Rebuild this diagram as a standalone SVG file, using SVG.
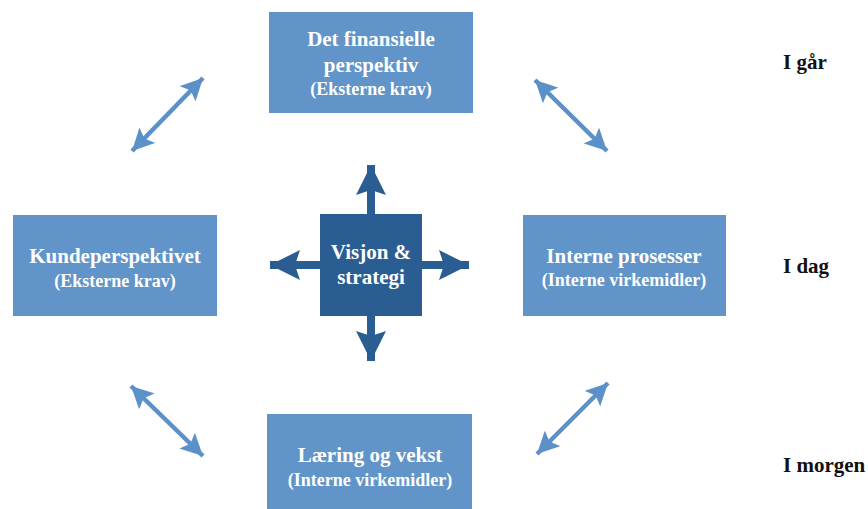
<svg xmlns="http://www.w3.org/2000/svg" width="868" height="509" viewBox="0 0 868 509">
<defs>
<style>
.box{fill:#6194c8;}
.core{fill:#2a5e92;}
.t{font-family:"Liberation Serif","Times New Roman",serif;font-weight:bold;fill:#ffffff;text-anchor:middle;}
.h{font-size:21px;}
.s{font-size:18px;}
.lbl{font-family:"Liberation Serif","Times New Roman",serif;font-weight:bold;font-size:21px;fill:#111111;}
.diag{stroke:#5b90c8;stroke-width:4.5;fill:none;marker-start:url(#hd);marker-end:url(#hd);}
.main{stroke:#2a5e92;stroke-width:8;fill:none;marker-end:url(#hm);}
</style>
<marker id="hd" viewBox="0 0 20 20" refX="20" refY="10" markerWidth="22" markerHeight="22" markerUnits="userSpaceOnUse" orient="auto-start-reverse">
<path d="M0,0 L20,10 L0,20 L4,10 z" fill="#5b90c8"/>
</marker>
<marker id="hm" viewBox="0 0 30 30" refX="30" refY="15" markerWidth="30" markerHeight="30" markerUnits="userSpaceOnUse" orient="auto">
<path d="M0,0 L30,15 L0,30 L5,15 z" fill="#2a5e92"/>
</marker>
</defs>
<g id="connectors">
<line class="diag" x1="132" y1="151" x2="203" y2="78"/>
<line class="diag" x1="535" y1="80" x2="607" y2="151"/>
<line class="diag" x1="131" y1="386" x2="203" y2="456"/>
<line class="diag" x1="608" y1="383" x2="537" y2="454"/>
<line class="main" x1="371" y1="215" x2="371" y2="165"/>
<line class="main" x1="371" y1="315" x2="371" y2="361"/>
<line class="main" x1="321" y1="265" x2="270" y2="265"/>
<line class="main" x1="421" y1="265" x2="469" y2="265"/>
</g>
<g id="finansielle">
<rect class="box" x="269" y="12" width="204" height="101"/>
<text class="t h" x="371" y="46">Det finansielle</text>
<text class="t h" x="371" y="72">perspektiv</text>
<text class="t s" x="371" y="95">(Eksterne krav)</text>
</g>
<g id="kunde">
<rect class="box" x="13" y="215" width="204" height="101"/>
<text class="t h" x="115" y="263">Kundeperspektivet</text>
<text class="t s" x="115" y="287">(Eksterne krav)</text>
</g>
<g id="interne">
<rect class="box" x="523" y="215" width="203" height="101"/>
<text class="t h" x="624" y="263">Interne prosesser</text>
<text class="t s" x="624" y="286">(Interne virkemidler)</text>
</g>
<g id="laering">
<rect class="box" x="267" y="414" width="205" height="100"/>
<text class="t h" x="370" y="462">Læring og vekst</text>
<text class="t s" x="370" y="486">(Interne virkemidler)</text>
</g>
<g id="visjon">
<rect class="core" x="320" y="214" width="102" height="102"/>
<text class="t h" x="371" y="259">Visjon &amp;</text>
<text class="t h" x="371" y="284">strategi</text>
</g>
<g id="labels">
<text class="lbl" x="783" y="69">I går</text>
<text class="lbl" x="783" y="273">I dag</text>
<text class="lbl" x="783" y="472">I morgen</text>
</g>
</svg>
